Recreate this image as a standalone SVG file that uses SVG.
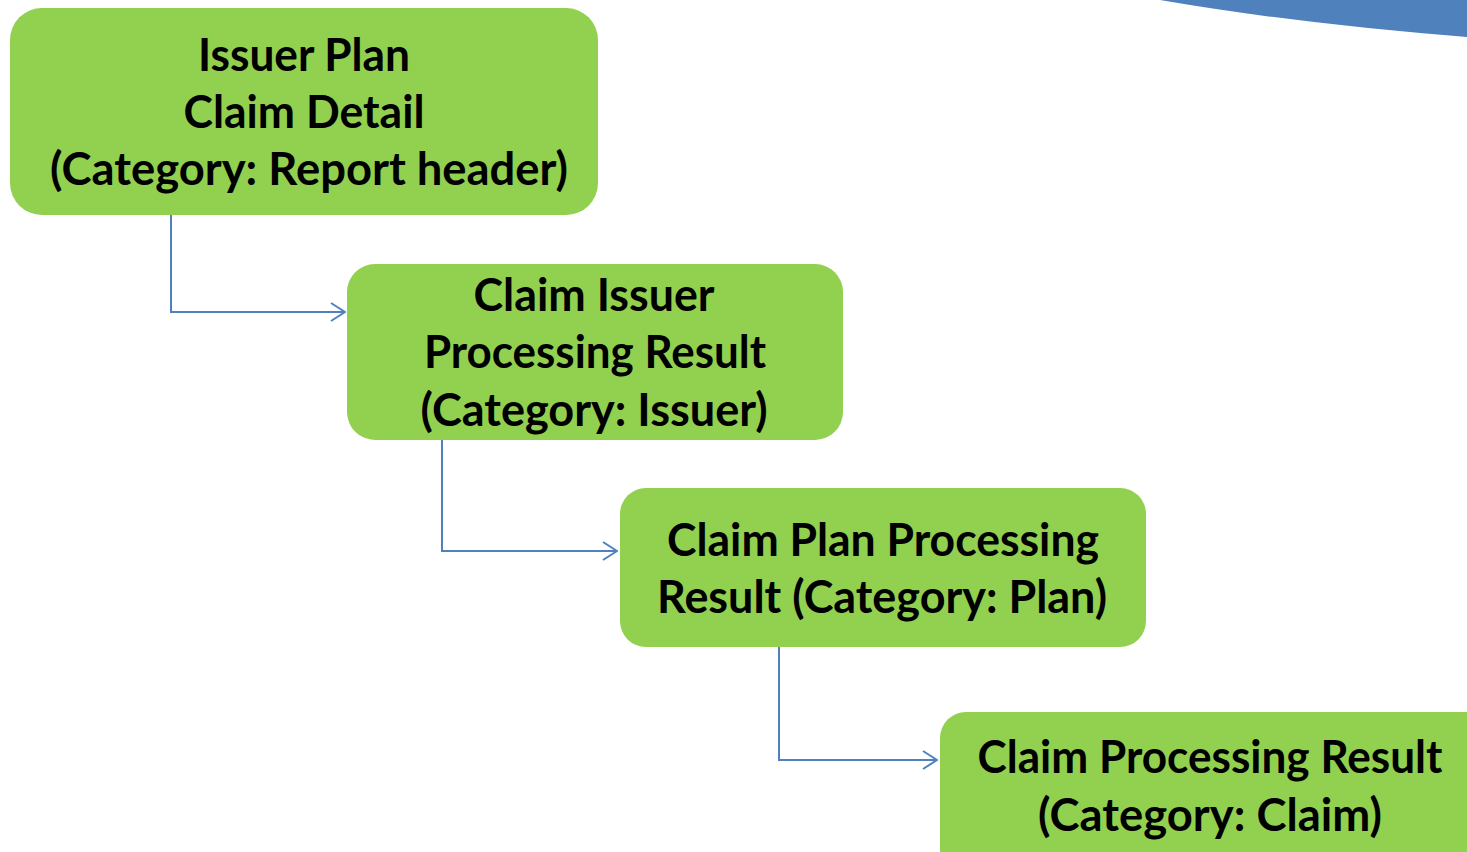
<svg xmlns="http://www.w3.org/2000/svg" width="1467" height="852" viewBox="0 0 1467 852">
<style>
.box{fill:#92D050;}
.lbl{font-family:Lato,"Open Sans","Liberation Sans",sans-serif;font-weight:bold;font-size:46px;fill:#000;text-anchor:middle;}
.conn{fill:none;stroke:#4F81BD;stroke-width:2;}
</style>
<defs>
<marker id="arr" viewBox="0 0 16 20" refX="15" refY="10" markerWidth="16" markerHeight="20" markerUnits="userSpaceOnUse" orient="auto">
<path d="M1,1 L15,10 L1,19" fill="none" stroke="#4F81BD" stroke-width="2"/>
</marker>
</defs>
<rect width="1467" height="852" fill="#fff"/>
<path d="M1160,0 Q1300,24 1467,37 L1467,0 Z" fill="#4F81BD"/>
<g id="connectors">
<path class="conn" d="M171,215 V312 H345" marker-end="url(#arr)"/>
<path class="conn" d="M442,440 V551 H617" marker-end="url(#arr)"/>
<path class="conn" d="M779,647 V760 H937" marker-end="url(#arr)"/>
</g>
<g id="node1">
<rect class="box" x="10" y="8" width="588" height="207" rx="32"/>
<text class="lbl" x="304" y="71" textLength="212" lengthAdjust="spacingAndGlyphs">Issuer Plan</text>
<text class="lbl" x="304" y="128" textLength="241" lengthAdjust="spacingAndGlyphs">Claim Detail</text>
<text class="lbl" x="309" y="185" textLength="518" lengthAdjust="spacingAndGlyphs">(Category: Report header)</text>
</g>
<g id="node2">
<rect class="box" x="347" y="264" width="496" height="176" rx="28"/>
<text class="lbl" x="594" y="311" textLength="241" lengthAdjust="spacingAndGlyphs">Claim Issuer</text>
<text class="lbl" x="595" y="368" textLength="342" lengthAdjust="spacingAndGlyphs">Processing Result</text>
<text class="lbl" x="594" y="426" textLength="347" lengthAdjust="spacingAndGlyphs">(Category: Issuer)</text>
</g>
<g id="node3">
<rect class="box" x="620" y="488" width="526" height="159" rx="26"/>
<text class="lbl" x="883" y="556" textLength="432" lengthAdjust="spacingAndGlyphs">Claim Plan Processing</text>
<text class="lbl" x="882" y="613" textLength="450" lengthAdjust="spacingAndGlyphs">Result (Category: Plan)</text>
</g>
<g id="node4">
<rect class="box" x="940" y="712" width="560" height="170" rx="26"/>
<text class="lbl" x="1210" y="773" textLength="465" lengthAdjust="spacingAndGlyphs">Claim Processing Result</text>
<text class="lbl" x="1210" y="831" textLength="344" lengthAdjust="spacingAndGlyphs">(Category: Claim)</text>
</g>
</svg>
